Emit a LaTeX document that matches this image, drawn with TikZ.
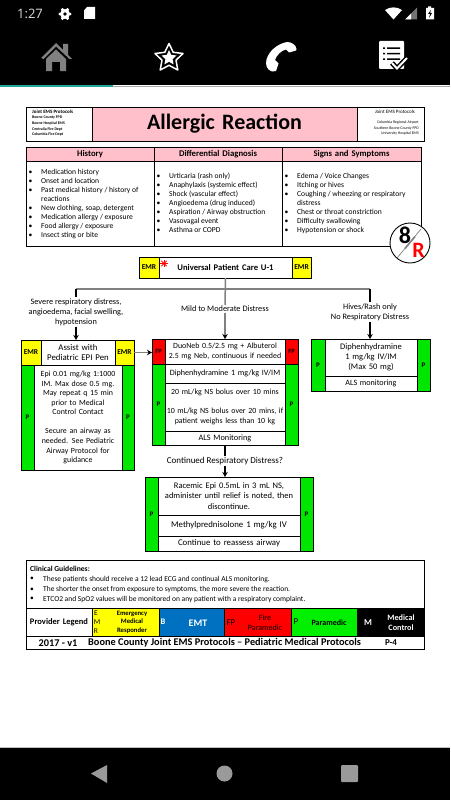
\documentclass[tikz,border=0pt]{standalone}
\usepackage{fontspec}
\setmainfont{Carlito}
\newfontfamily\uifont{Open Sans}
\usetikzlibrary{arrows.meta}
\definecolor{pk}{HTML}{FFC0CB}
\definecolor{yl}{HTML}{FFFF00}
\definecolor{gn}{HTML}{00E600}
\definecolor{lgn}{HTML}{00F000}
\definecolor{rd}{HTML}{FF0000}
\definecolor{bl}{HTML}{0070C0}
\definecolor{gy}{HTML}{808080}
\definecolor{navgy}{HTML}{9A9A9A}
\definecolor{teal2}{HTML}{1FA79A}
\newcommand{\fsz}[2]{\fontsize{#1}{#2}\selectfont}
% \pcell{style}{name}{x1}{y1}{x2}{y2}{text}
\newcommand{\pcell}[7]{%
  \pgfmathsetmacro\cwd{#5-#3}\pgfmathsetmacro\cht{#6-#4}%
  \pgfmathsetmacro\ccx{(#3+#5)/2}\pgfmathsetmacro\ccy{(#4+#6)/2}%
  \node[cellbox,#1,minimum width=\cwd pt,minimum height=\cht pt,text width=\cwd pt] (#2) at (\ccx,\ccy) {#7};}
\newcommand{\blines}[1]{\begin{tabular}{@{}p{12.5pt}@{}l@{}}#1\end{tabular}}
\tikzset{
  cellbox/.style={draw=black,line width=0.9pt,inner sep=0pt,outer sep=0pt,align=center,font=\fsz{7.9}{9.6}},
  ptag/.style={fill=gn,font=\fsz{7}{8}\bfseries},
  fptag/.style={fill=rd,font=\fsz{6.5}{8}\bfseries},
  emrtag/.style={fill=yl,font=\fsz{7.5}{8}\bfseries},
  lbl/.style={inner sep=1pt,align=center,font=\fsz{8.3}{9.8}},
  tbl/.style={inner sep=0pt,anchor=north west,font=\fsz{7.6}{8.95}},
  lbox/.style={draw=none,inner sep=0pt,align=center},
  gl/.style={inner sep=0pt,anchor=west,font=\fsz{7.5}{8}},
  conn/.style={line width=1.1pt,draw=black},
  gconn/.style={line width=1.5pt,draw=gy},
  arr/.style={line width=1.1pt,draw=black,-{Stealth[length=5pt,width=5.5pt,black]}},
  garr/.style={line width=1.5pt,draw=gy,-{Stealth[length=5pt,width=5.5pt,black]}}
}
\begin{document}
\begin{tikzpicture}[x=1pt,y=-1pt]
\useasboundingbox (0,0) rectangle (450,800);
\fill[white] (0,0) rectangle (450,800);
% app chrome
\fill[black] (0,0) rectangle (450,85);
\fill[black] (0,748) rectangle (450,800);
\fill[teal2] (0,85) rectangle (113,87);
\fill[gray!70] (113,86) rectangle (450,87.2);
\fill[gray!50] (0,747) rectangle (450,748);
\node[inner sep=0pt,text=white!85!black,font=\uifont\fsz{13}{15}] (clock) at (30,14) {1:27};
% gear
\foreach \a in {0,60,...,300}{\fill[white] (65,14)++(\a:5) circle (1.7);}
\fill[white] (65,14) circle (5);
\fill[black] (65,14) circle (1.9);
% sd
\fill[white] (84,19) -- (84,10.5) -- (87,7) -- (95,7) -- (95,19) -- cycle;
% status right
\fill[white] (385,10) .. controls (390,6.5) and (397,6.5) .. (402,10) -- (393.5,19.5) -- cycle;
\fill[white!45!black] (405,19.5) -- (417,19.5) -- (417,7.5) -- cycle;
\fill[white] (411,19.5) -- (411,13.5) -- (405,19.5) -- cycle;
\fill[white] (426,8) -- (428,8) -- (428,6.5) -- (431,6.5) -- (431,8) -- (434,8) -- (434,19.5) -- (426,19.5) -- cycle;
\fill[black] (431,9.5) -- (428,14) -- (430,14) -- (429,18) -- (432,13) -- (430,13) -- cycle;
% home
\fill[gy] (41,58) -- (56,43) -- (63,50) -- (63,44) -- (68,44) -- (68,55) -- (72,59) -- (69.5,59) -- (56,46.5) -- (43.5,59) -- cycle;
\fill[gy] (46,59) -- (56,49.5) -- (66,59) -- (66,71) -- (60,71) -- (60,62) -- (52,62) -- (52,71) -- (46,71) -- cycle;
% star
\draw[white,line width=1.5pt,line join=round] (169,43.5) -- (173.2,52.3) -- (183,53.5) -- (176,60.2) -- (177.8,70) -- (169,65.3) -- (160.2,70) -- (162,60.2) -- (155,53.5) -- (164.8,52.3) -- cycle;
\fill[white] (169,50) -- (171.2,54.8) -- (176.5,55.5) -- (172.6,59.1) -- (173.6,64.4) -- (169,61.8) -- (164.4,64.4) -- (165.4,59.1) -- (161.5,55.5) -- (166.8,54.8) -- cycle;
% phone
\fill[white] (272,71.5) .. controls (267,70) and (265,65) .. (266.5,59.5) .. controls (269,51) and (277,44) .. (287,42) .. controls (292,42) and (296,45) .. (296.5,49) -- (296,50.5) -- (289,52.5) -- (286,49.5) .. controls (281,50.5) and (276.5,55.5) .. (275,60) -- (278.5,63.5) -- (276,71) -- cycle;
% checklist
\fill[white,rounded corners=1pt] (379,41) rectangle (404,69);
\fill[black] (383,47.5) rectangle (385,49) (387,47.5) rectangle (400,49);
\fill[black] (383,53) rectangle (385,54.5) (387,53) rectangle (400,54.5);
\fill[black] (383,58.5) rectangle (385,60) (387,58.5) rectangle (400,60);
\draw[black,line width=5pt] (392,63) -- (397,68.5) -- (407,58);
\draw[white,line width=2pt] (392,63) -- (397,68.5) -- (407,58);

% header
\pcell{fill=white}{hleft}{26}{107}{92}{141}{}
\pcell{fill=pk,font=\fsz{22}{26}\bfseries}{htitle}{92}{107}{357}{141}{Allergic Reaction}
\pcell{fill=white}{hright}{357}{107}{424}{141}{}
\node[inner sep=0pt,anchor=west,font=\fsz{5}{6}\bfseries] (hl0) at (32,112) {Joint EMS Protocols};
\node[inner sep=0pt,anchor=west,font=\fsz{3.9}{5}\bfseries] (hl1) at (32,118) {Boone County FPD};
\node[inner sep=0pt,anchor=west,font=\fsz{3.9}{5}\bfseries] (hl2) at (32,123.5) {Boone Hospital EMS};
\node[inner sep=0pt,anchor=west,font=\fsz{3.9}{5}\bfseries] (hl3) at (32,129) {Centralia Fire Dept};
\node[inner sep=0pt,anchor=west,font=\fsz{3.9}{5}\bfseries] (hl4) at (32,134) {Columbia Fire Dept};
\node[inner sep=0pt,font=\fsz{5}{6}] (hr0) at (395,112) {Joint EMS Protocols};
\node[inner sep=0pt,anchor=east,font=\fsz{3.9}{5}] (hr1) at (419,122.5) {Columbia Regional Airport};
\node[inner sep=0pt,anchor=east,font=\fsz{3.9}{5}] (hr2) at (419,128) {Southern Boone County FPD};
\node[inner sep=0pt,anchor=east,font=\fsz{3.9}{5}] (hr3) at (419,133) {University Hospital EMS};

% table
\pcell{fill=pk,font=\fsz{8.7}{10}\bfseries}{th1}{26}{147}{154}{161}{History}
\pcell{fill=pk,font=\fsz{8.7}{10}\bfseries}{th2}{154}{147}{282}{161}{Differential Diagnosis}
\pcell{fill=pk,font=\fsz{8.7}{10}\bfseries}{th3}{282}{147}{421}{161}{Signs and Symptoms}
\pcell{}{tb1}{26}{161}{154}{246}{}
\pcell{}{tb2}{154}{161}{282}{246}{}
\pcell{}{tb3}{282}{161}{421}{246}{}
\node[tbl] (hist) at (28.5,168) {\blines{
•&Medication history\\
•&Onset and location\\
•&Past medical history / history of\\
&reactions\\
•&New clothing, soap, detergent\\
•&Medication allergy / exposure\\
•&Food allergy / exposure\\
•&Insect sting or bite}};
\node[tbl] (ddx) at (156.5,172.5) {\blines{
•&Urticaria (rash only)\\
•&Anaphylaxis (systemic effect)\\
•&Shock (vascular effect)\\
•&Angioedema (drug induced)\\
•&Aspiration / Airway obstruction\\
•&Vasovagal event\\
•&Asthma or COPD}};
\node[tbl] (sig) at (284.5,172.5) {\blines{
•&Edema / Voice Changes\\
•&Itching or hives\\
•&Coughing / wheezing or respiratory\\
&distress\\
•&Chest or throat constriction\\
•&Difficulty swallowing\\
•&Hypotension or shock}};

% 8R badge
\draw[black,line width=0.9pt,fill=white] (410,243) circle (20);
\draw[gy,line width=0.7pt] (397,258) -- (421,229);
\draw[gy,line width=1.6pt] (405,248.5) -- (415,236.5);
\node[inner sep=0pt,font=\fsz{24}{26}\bfseries] (badge8) at (405,235) {8};
\node[inner sep=0pt,text=rd,font=\fsz{22}{24}\bfseries] (badgeR) at (418.5,250.5) {R};

% universal
\pcell{emrtag}{ul}{139}{257}{159}{278}{EMR}
\pcell{fill=white,font=\fsz{8.6}{10}\bfseries}{um}{159}{257}{292}{278}{Universal Patient Care U-1}
\pcell{emrtag}{ur}{292}{257}{311}{278}{EMR}
\foreach \a in {0,45,...,315}{\draw[rd,line width=0.8pt] (164,263.5) -- ++(\a:3.8);}

% left box
\pcell{emrtag}{a1}{21}{340}{41}{365}{EMR}
\pcell{fill=white,font=\fsz{8.8}{9.8}}{a2}{41}{340}{115}{365}{Assist with\\Pediatric EPI Pen}
\pcell{emrtag}{a3}{115}{340}{134}{365}{EMR}
\pcell{ptag}{a4}{21}{365}{34}{470}{P}
\pcell{fill=white}{a5}{34}{365}{122}{470}{Epi 0.01 mg/kg 1:1000\\IM. Max dose 0.5 mg.\\May repeat q 15 min\\prior to Medical\\Control Contact\\[9.5pt]Secure an airway as\\needed. See Pediatric\\Airway Protocol for\\guidance}
\pcell{ptag}{a6}{122}{365}{134}{470}{P}

% middle box
\pcell{fptag}{b1}{152}{339}{165}{364}{FP}
\pcell{ptag}{b2}{152}{364}{165}{445}{P}
\pcell{fptag}{b3}{285}{339}{298}{364}{FP}
\pcell{ptag}{b4}{285}{364}{298}{445}{P}
\pcell{fill=white}{b5}{165}{339}{285}{364}{DuoNeb 0.5/2.5 mg + Albuterol\\2.5 mg Neb, continuous if needed}
\pcell{fill=white,font=\fsz{8.1}{9.6}}{b6}{165}{364}{285}{383}{Diphenhydramine 1 mg/kg IV/IM}
\pcell{fill=white}{b7}{165}{383}{285}{431}{20 mL/kg NS bolus over 10 mins\\[9.5pt]10 mL/kg NS bolus over 20 mins, if\\patient weighs less than 10 kg}
\pcell{fill=white,font=\fsz{8.3}{9.6}}{b8}{165}{431}{285}{445}{ALS Monitoring}

% right box
\pcell{ptag}{c1}{311}{339}{325}{391}{P}
\pcell{ptag}{c2}{417}{339}{430}{391}{P}
\pcell{fill=white,font=\fsz{8.5}{9.8}}{c3}{325}{339}{417}{376}{Diphenhydramine\\1 mg/kg IV/IM\\(Max 50 mg)}
\pcell{fill=white,font=\fsz{8.1}{9.6}}{c4}{325}{376}{417}{391}{ALS monitoring}

% bottom box
\pcell{ptag}{d1}{145}{477}{158}{551}{P}
\pcell{ptag}{d2}{300}{477}{313}{551}{P}
\pcell{fill=white,font=\fsz{8.5}{10.4}}{d3}{158}{477}{300}{515}{Racemic Epi 0.5mL in 3 mL NS,\\administer until relief is noted, then\\discontinue.}
\pcell{fill=white,font=\fsz{8.8}{10}}{d4}{158}{515}{300}{536}{Methylprednisolone 1 mg/kg IV}
\pcell{fill=white,font=\fsz{8.8}{10}}{d5}{158}{536}{300}{551}{Continue to reassess airway}

% labels
\node[lbl] (l1) at (76,312) {Severe respiratory distress,\\angioedema, facial swelling,\\hypotension};
\node[lbl] (l2) at (225,309) {Mild to Moderate Distress};
\node[lbl] (l3) at (370,312) {Hives/Rash only\\No Respiratory Distress};
\node[lbl,font=\fsz{9}{10}] (l4) at (225,461) {Continued Respiratory Distress?};

% connectors
\coordinate (busL) at (76,289);
\coordinate (busM) at (225,289);
\coordinate (busR) at (370,289);
\draw[gconn] (busL) -- (busR);
\draw[gconn] (um.south) -- (l2.north);
\draw[garr] (l2.south) -- (b5.north);
\draw[conn] (busL) -- (l1.north);
\draw[arr] (l1.south) -- (busL |- a2.north);
\draw[conn] (busR) -- (l3.north);
\draw[arr] (l3.south) -- (busR |- c3.north);
\draw[garr] (a3.east) -- (a3.east -| b1.west);
\draw[conn] (b8.south) -- (l4.north);
\draw[arr] (l4.south) -- (l4.south |- d3.north);

% guidelines
\pcell{}{guide}{26}{560}{424}{608}{}
\node[gl,font=\fsz{7.6}{9}\bfseries] (g0) at (30,569) {Clinical Guidelines:};
\node[gl] (gb1) at (30,579) {•};
\node[gl] (gb2) at (30,589.5) {•};
\node[gl] (gb3) at (30,599) {•};
\node[gl] (g1) at (43,579.5) {These patients should receive a 12 lead ECG and continual ALS monitoring.};
\node[gl] (g2) at (43,589.5) {The shorter the onset from exposure to symptoms, the more severe the reaction.};
\node[gl] (g3) at (43,599) {ETCO2 and SpO2 values will be monitored on any patient with a respiratory complaint.};

% legend
\pcell{fill=white,font=\fsz{8.5}{10}\bfseries}{pl}{26}{608}{92}{636}{Provider Legend}
\pcell{fill=yl}{ly}{92}{608}{159}{636}{}
\pcell{fill=bl}{lb}{159}{608}{224}{636}{}
\pcell{fill=rd}{lr}{224}{608}{291}{636}{}
\pcell{fill=lgn}{lg}{291}{608}{357}{636}{}
\pcell{fill=black}{lk}{357}{608}{424}{636}{}
\node[inner sep=0pt,font=\fsz{7.5}{8.5}] (lye) at (96,613.5) {E};
\node[inner sep=0pt,font=\fsz{7.5}{8.5}] (lym) at (97,622) {M};
\node[inner sep=0pt,font=\fsz{7.5}{8.5}] (lyr) at (96,631) {R};
\node[inner sep=0pt,align=center,font=\fsz{6.7}{8.6}\bfseries] (lyt) at (132,622) {Emergency\\Medical\\Responder};
\node[inner sep=0pt,text=white,font=\fsz{8.5}{10}\bfseries] (lbb) at (163,622) {B};
\node[inner sep=0pt,text=white,font=\fsz{10}{11}\bfseries] (lbt) at (198,623) {EMT};
\node[inner sep=0pt,font=\fsz{9}{10}] (lrf) at (231,623) {FP};
\node[inner sep=0pt,align=center,font=\fsz{8}{10.5}] (lrt) at (265,623) {Fire\\Paramedic};
\node[inner sep=0pt,font=\fsz{9}{10}] (lgp) at (296,622) {P};
\node[inner sep=0pt,font=\fsz{8}{9}\bfseries] (lgt) at (329,623) {Paramedic};
\node[inner sep=0pt,text=white,font=\fsz{9}{10}\bfseries] (lkm) at (368,623) {M};
\node[inner sep=0pt,text=white,align=center,font=\fsz{8.2}{10.5}\bfseries] (lkt) at (401,622.5) {Medical\\Control};

% footer
\pcell{fill=white}{foot}{26}{636}{424}{649}{}
\node[inner sep=0pt,font=\fsz{10.3}{12}\bfseries] (f1) at (58,643) {2017 - v1};
\node[inner sep=0pt,anchor=west,font=\fsz{10.3}{12}\bfseries] (f2) at (88,643) {Boone County Joint EMS Protocols – Pediatric Medical Protocols};
\node[inner sep=0pt,font=\fsz{9}{12}\bfseries] (f3) at (391,643) {P-4};

% nav buttons
\fill[navgy] (107,765) -- (91,773.5) -- (107,783) -- cycle;
\fill[navgy] (224.5,773.5) circle (8);
\fill[navgy,rounded corners=1pt] (341,765) rectangle (358,782);
\end{tikzpicture}
\end{document}
